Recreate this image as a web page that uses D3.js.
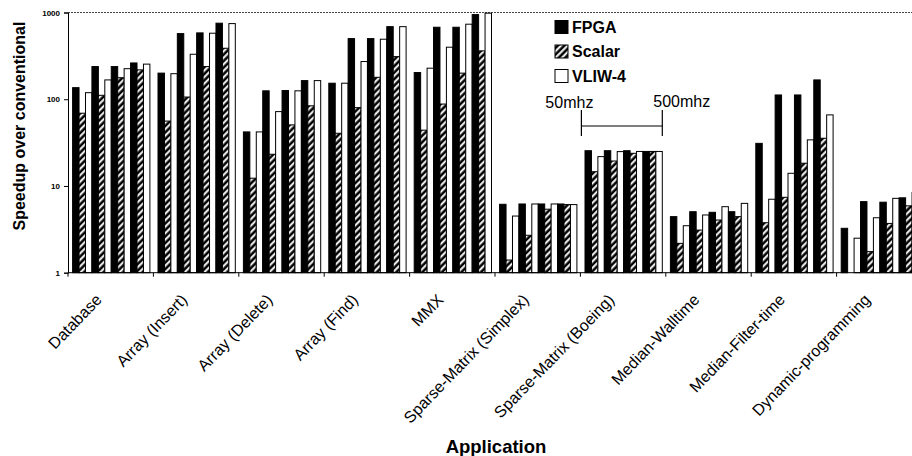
<!DOCTYPE html>
<html><head><meta charset="utf-8">
<script src="https://cdn.jsdelivr.net/npm/d3@7"></script>
<style>
html,body{margin:0;padding:0;background:#fff;overflow:hidden}
text{font-family:"Liberation Sans",Arial,sans-serif;fill:#000}
</style></head>
<body><svg id="c" width="912" height="456"></svg>
<script>
const applications = ["Database","Array (Insert)","Array (Delete)","Array (Find)","MMX",
  "Sparse-Matrix (Simplex)","Sparse-Matrix (Boeing)","Median-Walltime","Median-Filter-time","Dynamic-programming"];
const seriesNames = ["FPGA","Scalar","VLIW-4"];
const clockSteps = [0,1,2,3]; // 50mhz ... 500mhz
const yTicks = [1,10,100,1000];
// values per application, one per clock step (50mhz -> 500mhz)
const fpga = [[136,238,238,262],[200,571,582,753],[42,125,126,164],[153,500,500,687],[203,676,676,946],
  [6.15,6.2,6.2,6.2],[25.5,25.5,25.5,25],[4.43,5.05,4.97,5.05],[31,112,112,167],[3.25,6.6,6.5,7.3]];
const scalar = [[69,111,177,218],[56,106,238,387],[12.3,23.2,50.6,84],[40.5,80,179,310],[44,88,200,361],
  [1.4,2.7,5.4,6.1],[14.6,19.4,23.8,25],[2.18,3.1,4.05,4.43],[3.77,7.4,18.3,35.5],[1,1.75,3.7,5.9]];
const vliw = [[119,167,225,254],[197,330,577,745],[42,72,125,164],[153,272,492,687],[228,398,733,982],
  [4.5,6.2,6.2,6.1],[21.8,24.9,25,25],[3.48,4.63,5.77,6.3],[7.03,14,34,66],[2.5,4.3,7.2,8.4]];
const clockLabels = ["50mhz","500mhz"];

const svg = d3.select("#c");
const plotLeft = 68, bandW = 85.4, plotTop = 12.5, plotBottom = 272.7;
const x0 = d3.scaleBand().domain(applications).range([plotLeft, plotLeft + bandW*applications.length]).padding(0);
const x1 = d3.scaleBand().domain(d3.range(12)).range([4.6, 81.9]).padding(0);
const y = d3.scaleLog().domain([1,1000]).range([plotBottom, plotTop]);

const defs = svg.append("defs");
const pat = defs.append("pattern").attr("id","hatch").attr("patternUnits","userSpaceOnUse")
  .attr("width",4.6).attr("height",4.6).attr("patternTransform","rotate(45)");
pat.append("rect").attr("width",4.6).attr("height",4.6).attr("fill","#000");
pat.append("line").attr("x1",1.2).attr("y1",0).attr("x2",1.2).attr("y2",4.6).attr("stroke","#fff").attr("stroke-width",2);
const fills = ["#000","url(#hatch)","#fff"];

const seriesData = [fpga, scalar, vliw];
const bars = [];
applications.forEach((a,i)=>{
  clockSteps.forEach(c=>{
    seriesData.forEach((s,k)=>{ bars.push({app:a, idx:c*3+k, series:k, v:s[i][c]}); });
  });
});

// top dotted border
svg.append("line").attr("x1",plotLeft).attr("x2",912).attr("y1",plotTop).attr("y2",plotTop)
  .attr("stroke","#444").attr("stroke-width",1).attr("stroke-dasharray","2,1");

svg.append("g").selectAll("rect").data(bars).join("rect")
  .attr("x", d=>x0(d.app)+x1(d.idx))
  .attr("width", x1.bandwidth())
  .attr("y", d=>y(d.v))
  .attr("height", d=>Math.max(0, plotBottom - y(d.v)))
  .attr("fill", d=>fills[d.series])
  .attr("stroke","#000").attr("stroke-width",1);

// y axis
const yAxis = d3.axisLeft(y).tickValues(yTicks).tickFormat(d3.format("d")).tickSize(4);
const gy = svg.append("g").attr("transform",`translate(${plotLeft},0)`).call(yAxis);
gy.select(".domain").attr("stroke","#000");
gy.selectAll("text").style("font-size","8px").style("font-weight","bold").attr("x",-8);

// x axis
const boundaries = d3.range(applications.length+1).map(i=>plotLeft + i*bandW);
svg.append("line").attr("x1",plotLeft).attr("x2",912).attr("y1",plotBottom).attr("y2",plotBottom).attr("stroke","#000");
svg.append("g").selectAll("line").data(boundaries).join("line")
  .attr("x1",d=>d).attr("x2",d=>d).attr("y1",plotBottom).attr("y2",plotBottom+4).attr("stroke","#000");
svg.append("g").selectAll("text").data(applications).join("text")
  .attr("transform", d=>`translate(${x0(d)+bandW/2-8},${plotBottom+28}) rotate(-46)`)
  .attr("text-anchor","end").style("font-size","16px").text(d=>d);

// axis titles
svg.append("text").attr("transform","translate(25,126) rotate(-90)").attr("text-anchor","middle")
  .style("font-size","16px").style("font-weight","bold").text("Speedup over conventional");
svg.append("text").attr("x",496).attr("y",453).attr("text-anchor","middle")
  .style("font-size","18.5px").style("font-weight","bold").text("Application");

// legend
const lg = svg.append("g");
seriesNames.forEach((n,k)=>{
  const cy = 27 + k*24.5;
  lg.append("rect").attr("x",555).attr("y",cy-6.5).attr("width",13).attr("height",13)
    .attr("fill",fills[k]).attr("stroke","#000").attr("stroke-width",1);
  lg.append("text").attr("x",572).attr("y",cy+5.5).style("font-size","16px").style("font-weight","bold").text(n);
});

// clock bracket on Sparse-Matrix (Boeing)
const bx0 = x0(applications[6]) + 1, bx1 = x0(applications[6]) + x1(11) + x1.bandwidth();
const br = svg.append("g").attr("stroke","#000").attr("stroke-width",1.2);
br.append("line").attr("x1",bx0).attr("x2",bx0).attr("y1",110).attr("y2",136);
br.append("line").attr("x1",bx1).attr("x2",bx1).attr("y1",110).attr("y2",136);
br.append("line").attr("x1",bx0).attr("x2",bx1).attr("y1",126).attr("y2",126);
svg.append("text").attr("x",bx0+12).attr("y",108).attr("text-anchor","end").style("font-size","16px").text(clockLabels[0]);
svg.append("text").attr("x",bx1-9).attr("y",107).attr("text-anchor","start").style("font-size","16px").text(clockLabels[1]);
</script></body></html>
